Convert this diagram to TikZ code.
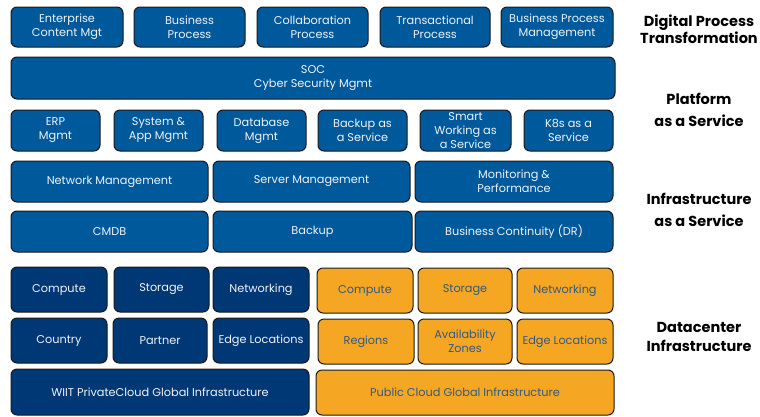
\documentclass[tikz,border=0pt]{standalone}
\usepackage{fontspec}
\setmainfont{Poppins}
\definecolor{pblue}{RGB}{0,89,155}
\definecolor{dblue}{RGB}{0,56,118}
\definecolor{porange}{RGB}{245,166,35}
\definecolor{otext}{RGB}{50,90,130}
\definecolor{wtext}{RGB}{238,242,247}
\tikzset{
  box/.style={draw=black!90, line width=1pt, rounded corners=6pt, inner sep=0pt, align=center,
    font=\fontsize{11.3}{14}\selectfont},
  bluebox/.style={box, fill=pblue, text=wtext},
  darkbox/.style={box, fill=dblue, text=wtext},
  orangebox/.style={box, fill=porange, text=otext},
  lbl/.style={align=center, text=black}
}
\newcommand\bx[7]{\node[#6, minimum width={#4pt-#2pt}, minimum height={#5pt-#3pt}] (#1) at ({(#2+#4)/2},{(#3+#5)/2}) {#7};}
\begin{document}
\begin{tikzpicture}[x=1pt,y=-1pt]
\useasboundingbox (0,0) rectangle (760,416);
% Digital process
\bx{ecm}{11}{7}{123}{47}{bluebox}{Enterprise\\Content Mgt}
\bx{bp}{134}{7}{245}{47}{bluebox}{Business\\Process}
\bx{cp}{257}{7}{368}{47}{bluebox}{Collaboration\\Process}
\bx{tp}{380}{7}{490}{47}{bluebox}{Transactional\\Process}
\bx{bpm}{501}{7}{613}{47}{bluebox}{Business Process\\Management}
% SOC
\bx{soc}{11}{57}{615}{99}{bluebox}{SOC\\Cyber Security Mgmt}
% Platform
\bx{erp}{11}{110}{100}{151}{bluebox}{ERP\\Mgmt}
\bx{sam}{114}{110}{203}{151}{bluebox}{System \&\\App Mgmt}
\bx{dbm}{217}{110}{306}{151}{bluebox}{Database\\Mgmt}
\bx{baas}{318}{110}{407}{151}{bluebox}{Backup as\\a Service}
\bx{swaas}{420}{110}{511}{151}{bluebox}{\fontsize{11.3}{12.5}\selectfont Smart\\Working as\\a Service}
\bx{k8s}{524}{110}{613}{151}{bluebox}{K8s as a\\Service}
% Infrastructure
\bx{nm}{11}{161}{208}{202}{bluebox}{Network Management}
\bx{sm}{213}{161}{410}{202}{bluebox}{Server Management}
\bx{mp}{415}{161}{613}{202}{bluebox}{Monitoring \&\\Performance}
\bx{cmdb}{11}{211}{208}{252}{bluebox}{CMDB}
\bx{bk}{213}{211}{412}{252}{bluebox}{Backup}
\bx{bc}{415}{211}{613}{252}{bluebox}{Business Continuity (DR)}
% Datacenter private
\bx{pc}{11}{267}{107}{312}{darkbox}{Compute}
\bx{ps}{114}{267}{209}{312}{darkbox}{Storage}
\bx{pn}{213}{267}{309}{312}{darkbox}{Networking}
\bx{pco}{11}{318}{107}{363}{darkbox}{Country}
\bx{pp}{113}{318}{207}{363}{darkbox}{Partner}
\bx{pe}{213}{318}{309}{363}{darkbox}{Edge Locations}
\bx{wiit}{11}{369}{309}{415}{darkbox}{WIIT PrivateCloud Global Infrastructure}
% Datacenter public
\bx{oc}{317}{268}{413}{313}{orangebox}{Compute}
\bx{os}{418}{268}{512}{313}{orangebox}{Storage}
\bx{on}{517}{268}{613}{313}{orangebox}{Networking}
\bx{orr}{318}{319}{414}{364}{orangebox}{Regions}
\bx{oaz}{418}{319}{512}{364}{orangebox}{Availability\\Zones}
\bx{oe}{517}{319}{613}{364}{orangebox}{Edge Locations}
\bx{pub}{316}{370}{614}{415}{orangebox}{Public Cloud Global Infrastructure}
% Labels
\node[lbl, font=\fontsize{14.5}{17.5}\selectfont\bfseries] (l1) at (699,29) {Digital Process\\Transformation};
\node[lbl, font=\fontsize{14.5}{21.5}\selectfont\bfseries] (l2) at (699,110) {Platform\\as a Service};
\node[lbl, font=\fontsize{14.5}{22.5}\selectfont\bfseries] (l3) at (699,210) {Infrastructure\\as a Service};
\node[lbl, font=\fontsize{14.5}{18.5}\selectfont\bfseries] (l4) at (699,337) {Datacenter\\Infrastructure};
\end{tikzpicture}
\end{document}
